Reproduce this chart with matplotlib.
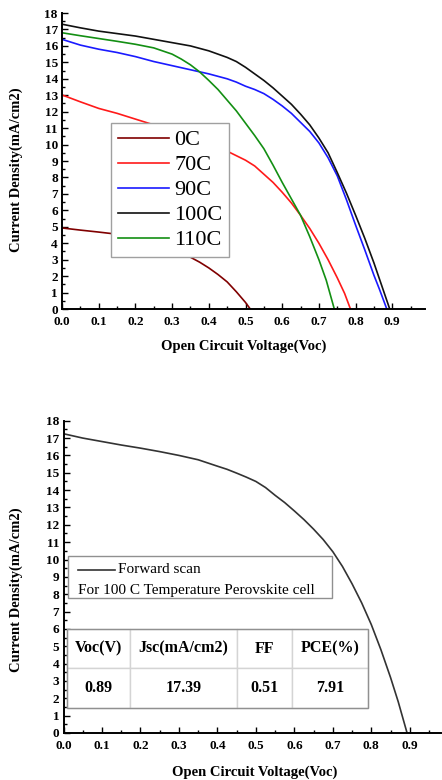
# plot.py
#
# J-V curves of perovskite cells annealed at different temperatures,
# plus the forward scan of the 100 C cell with its figures of merit.

import matplotlib
matplotlib.use('Agg')
import matplotlib.pyplot as plt
from matplotlib.lines import Line2D
from matplotlib.patches import Rectangle
from matplotlib.ticker import MultipleLocator

# --- top panel: J-V per anneal temperature ---
v_0c = [0.0, 0.05, 0.1, 0.15, 0.2, 0.25, 0.3, 0.35, 0.375, 0.4, 0.425,
        0.45, 0.475, 0.5, 0.513]
j_0c = [4.93, 4.8, 4.68, 4.55, 4.4, 4.15, 3.7, 3.15, 2.85, 2.5, 2.1,
        1.65, 1.05, 0.4, 0.0]

v_70c = [0.0, 0.05, 0.1, 0.15, 0.2, 0.25, 0.3, 0.35, 0.4, 0.45, 0.5, 0.525,
         0.55, 0.575, 0.6, 0.625, 0.65, 0.675, 0.7, 0.725, 0.75, 0.77, 0.786]
j_70c = [13.02, 12.6, 12.2, 11.9, 11.55, 11.2, 10.8, 10.4, 10.0, 9.6, 9.05,
         8.7, 8.2, 7.7, 7.1, 6.45, 5.7, 4.9, 4.0, 3.0, 1.9, 0.95, 0.0]

v_90c = [0.0, 0.05, 0.1, 0.15, 0.2, 0.25, 0.3, 0.35, 0.4, 0.45, 0.475, 0.5,
         0.525, 0.55, 0.575, 0.6, 0.625, 0.65, 0.675, 0.7, 0.725, 0.75,
         0.775, 0.8, 0.825, 0.85, 0.865, 0.885]
j_90c = [16.4, 16.05, 15.8, 15.6, 15.35, 15.05, 14.8, 14.55, 14.3, 14.0,
         13.8, 13.55, 13.35, 13.1, 12.75, 12.35, 11.9, 11.35, 10.8, 10.1,
         9.2, 8.1, 6.65, 5.1, 3.6, 2.05, 1.2, 0.0]

v_100c = [0.0, 0.05, 0.1, 0.15, 0.2, 0.25, 0.3, 0.35, 0.4, 0.425, 0.45,
          0.475, 0.5, 0.525, 0.55, 0.575, 0.6, 0.625, 0.65, 0.675, 0.7,
          0.725, 0.75, 0.775, 0.8, 0.825, 0.85, 0.87, 0.893]
j_100c = [17.32, 17.1, 16.9, 16.75, 16.6, 16.4, 16.2, 16.0, 15.7, 15.5,
          15.3, 15.05, 14.7, 14.3, 13.9, 13.45, 12.95, 12.45, 11.85, 11.2,
          10.4, 9.5, 8.3, 7.05, 5.7, 4.3, 2.8, 1.5, 0.0]

v_110c = [0.0, 0.05, 0.1, 0.15, 0.2, 0.25, 0.3, 0.325, 0.35, 0.375, 0.4,
          0.425, 0.45, 0.475, 0.5, 0.525, 0.55, 0.575, 0.6, 0.625, 0.65,
          0.675, 0.7, 0.72, 0.742]
j_110c = [16.8, 16.62, 16.45, 16.28, 16.1, 15.88, 15.5, 15.2, 14.85, 14.42,
          13.9, 13.35, 12.7, 12.05, 11.3, 10.55, 9.75, 8.75, 7.7, 6.7, 5.7,
          4.4, 3.0, 1.75, 0.0]

temp_labels = ['0C', '70C', '90C', '100C', '110C']
temp_colors = ['#800000', '#ff1a1a', '#1a1aff', '#111111', '#138f13']

# --- bottom panel: forward scan of the 100 C cell ---
v_fwd = [0.0, 0.05, 0.1, 0.15, 0.2, 0.25, 0.3, 0.35, 0.4, 0.425, 0.45,
         0.475, 0.5, 0.525, 0.55, 0.575, 0.6, 0.625, 0.65, 0.675, 0.7,
         0.725, 0.75, 0.775, 0.8, 0.825, 0.85, 0.87, 0.893]
j_fwd = [17.25, 17.0, 16.8, 16.6, 16.42, 16.22, 16.0, 15.75, 15.38, 15.2,
         14.98, 14.75, 14.5, 14.15, 13.7, 13.28, 12.8, 12.3, 11.75, 11.15,
         10.45, 9.6, 8.6, 7.5, 6.25, 4.8, 3.2, 1.8, 0.0]

table_header = ['Voc(V)', 'Jsc(mA/cm2)', 'FF', 'PCE(%)']
table_values = ['0.89', '17.39', '0.51', '7.91']

x_ticks = [0.0, 0.1, 0.2, 0.3, 0.4, 0.5, 0.6, 0.7, 0.8, 0.9]
y_ticks = list(range(0, 19))

SERIF = 'Liberation Serif'


def _style_axes(ax, xmax):
    """Origin-like axes: left/bottom spines, inward ticks, bold serif labels."""
    ax.set_xlim(0, xmax)
    ax.set_ylim(0, 18)
    ax.set_xticks(x_ticks)
    ax.set_xticklabels([f'{t:.1f}' for t in x_ticks])
    ax.set_yticks(y_ticks)
    ax.xaxis.set_minor_locator(MultipleLocator(0.05))
    ax.yaxis.set_minor_locator(MultipleLocator(0.5))
    for side in ('top', 'right'):
        ax.spines[side].set_visible(False)
    for side in ('left', 'bottom'):
        ax.spines[side].set_linewidth(1.4)
    ax.tick_params(which='major', direction='in', length=4.5, width=1.0)
    ax.tick_params(which='minor', direction='in', length=2.2, width=1.0)
    ax.tick_params(axis='x', which='major', pad=5)
    ax.tick_params(axis='y', which='major', pad=3)
    for lab in ax.get_xticklabels() + ax.get_yticklabels():
        lab.set_fontfamily(SERIF)
        lab.set_fontweight('bold')
        lab.set_fontsize(9.5)
    ax.set_xlabel('Open Circuit Voltage(Voc)', fontfamily=SERIF,
                  fontweight='bold', fontsize=10.5, va='center')
    ax.set_ylabel('Current Density(mA/cm2)', fontfamily=SERIF,
                  fontweight='bold', fontsize=10.5, va='center')


fig = plt.figure(figsize=(4.42, 7.8), dpi=100)

# top panel
ax1 = fig.add_axes([0.1403, 0.6038, 0.822, 0.3795])
series = [(v_0c, j_0c), (v_70c, j_70c), (v_90c, j_90c),
          (v_100c, j_100c), (v_110c, j_110c)]
for (v, j), lab, col in zip(series, temp_labels, temp_colors):
    ax1.plot(v, j, color=col, lw=1.2, label=lab)
_style_axes(ax1, 0.99)
ax1.xaxis.set_label_coords(0.50, -0.125)
ax1.yaxis.set_label_coords(-0.127, 0.47)
leg = ax1.legend(loc='upper left', bbox_to_anchor=(0.135, 0.628),
                 prop={'family': SERIF, 'size': 16}, frameon=True,
                 fancybox=False, framealpha=1, edgecolor='#a0a0a0',
                 borderpad=0.3, labelspacing=0.2, handlelength=2.3,
                 handletextpad=0.25, borderaxespad=0)
leg.get_frame().set_linewidth(1.0)

# bottom panel
ax2 = fig.add_axes([0.1437, 0.0603, 0.853, 0.4003])
ax2.plot(v_fwd, j_fwd, color='#333333', lw=1.2)
_style_axes(ax2, 0.98)
ax2.xaxis.set_label_coords(0.508, -0.125)
ax2.yaxis.set_label_coords(-0.126, 0.458)

# legend-like note box
ax2.add_patch(Rectangle((0.012, 0.432), 0.70, 0.135, transform=ax2.transAxes,
                        facecolor='white', edgecolor='#909090', lw=1.0,
                        zorder=3))
ax2.add_line(Line2D([0.038, 0.136], [0.522, 0.522], transform=ax2.transAxes,
                    color='#333333', lw=1.2, zorder=4))
ax2.text(0.145, 0.522, 'Forward scan', transform=ax2.transAxes,
         fontfamily=SERIF, fontsize=11, va='center', ha='left', zorder=4)
ax2.text(0.038, 0.456, 'For 100 C Temperature Perovskite cell',
         transform=ax2.transAxes, fontfamily=SERIF, fontsize=11,
         va='center', ha='left', zorder=4)

# figures-of-merit table
tbl_box = [0.009, 0.080, 0.798, 0.253]
tbl = ax2.table(cellText=[table_header, table_values], cellLoc='center',
                colWidths=[0.209, 0.355, 0.183, 0.252], bbox=tbl_box,
                zorder=3)
tbl.auto_set_font_size(False)
for cell in tbl.get_celld().values():
    cell.set_edgecolor('#d4d4d4')
    cell.set_linewidth(1.0)
    cell.set_facecolor('white')
    cell.get_text().set_fontfamily(SERIF)
    cell.get_text().set_fontweight('bold')
    cell.get_text().set_fontsize(11.5)
ax2.add_patch(Rectangle((tbl_box[0], tbl_box[1]), tbl_box[2], tbl_box[3],
                        transform=ax2.transAxes, fill=False,
                        edgecolor='#909090', lw=1.0, zorder=5))

fig.savefig('out.png', dpi=100)
